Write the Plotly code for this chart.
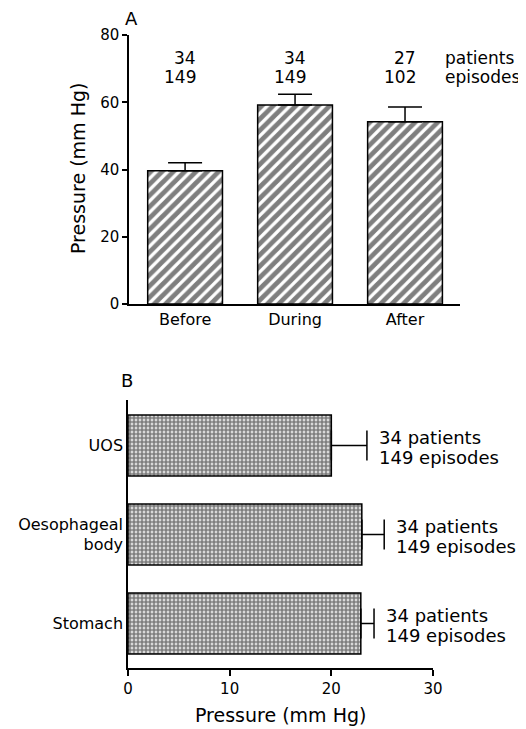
import plotly.graph_objects as go

# Panel A data
phases = ["Before", "During", "After"]
pressure_a = [39.6, 59.2, 54.2]
sem_a = [2.4, 3.2, 4.4]
patients_a = [34, 34, 27]
episodes_a = [149, 149, 102]
signif_a = ["", "**", "**"]

# Panel B data
sites = ["UOS", "Oesophageal<br>body", "Stomach"]
pressure_b = [20.0, 23.0, 22.9]
sem_b = [3.5, 2.2, 1.3]
patients_b = [34, 34, 34]
episodes_b = [149, 149, 149]

W, H = 526, 729
OFF = 8  # page body margin
FONT = "DejaVu Sans"

def px_x(p):
    return (p - OFF) / W

def px_y(p):
    return 1 - (p - OFF) / H

fig = go.Figure()

idx_a = list(range(len(phases)))
fig.add_trace(go.Bar(
    x=idx_a, y=pressure_a, xaxis="x", yaxis="y", width=0.68,
    marker=dict(color="white", line=dict(color="black", width=1.5),
                pattern=dict(shape="/", fgcolor="black", bgcolor="white", size=8, solidity=0.6)),
    error_y=dict(type="data", symmetric=False, array=sem_a, arrayminus=[0]*3,
                 color="black", thickness=1.5, width=17),
    showlegend=False, hoverinfo="skip",
))

idx_b = list(range(len(sites)))
fig.add_trace(go.Bar(
    y=idx_b, x=pressure_b, orientation="h", xaxis="x2", yaxis="y2", width=0.685,
    marker=dict(color="white", line=dict(color="black", width=1.5),
                pattern=dict(shape=".", fgcolor="black", bgcolor="white", size=4, solidity=0.75)),
    error_x=dict(type="data", symmetric=False, array=sem_b, arrayminus=[0]*3,
                 color="black", thickness=1.5, width=15),
    showlegend=False, hoverinfo="skip",
))

ann = []
tf = dict(family=FONT, size=17, color="black")
for i in idx_a:
    ann.append(dict(x=i, y=73.2, xref="x", yref="y", text=str(patients_a[i]), showarrow=False,
                    xanchor="right", yanchor="middle", xshift=13, font=tf))
    ann.append(dict(x=i, y=67.6, xref="x", yref="y", text=str(episodes_a[i]), showarrow=False,
                    xanchor="right", yanchor="middle", xshift=13, font=tf))
    if signif_a[i]:
        ann.append(dict(x=i, y=80.4, xref="x", yref="y", text=signif_a[i], showarrow=False,
                        xanchor="center", yanchor="middle", font=tf))
ann.append(dict(x=px_x(443), y=73.2, xref="paper", yref="y", text="patients", showarrow=False,
                xanchor="left", yanchor="middle", font=tf))
ann.append(dict(x=px_x(443), y=67.6, xref="paper", yref="y", text="episodes", showarrow=False,
                xanchor="left", yanchor="middle", font=tf))

bf = dict(family=FONT, size=18, color="black")
for i in idx_b:
    xe = pressure_b[i] + sem_b[i]
    ann.append(dict(x=xe, y=i, xref="x2", yref="y2", text=f"{patients_b[i]} patients", showarrow=False,
                    xanchor="left", yanchor="middle", xshift=10, yshift=8, font=bf))
    ann.append(dict(x=xe, y=i, xref="x2", yref="y2", text=f"{episodes_b[i]} episodes", showarrow=False,
                    xanchor="left", yanchor="middle", xshift=10, yshift=-12, font=bf))

def label(x, y, text, size, angle=0):
    ann.append(dict(x=px_x(x), y=px_y(y), xref="paper", yref="paper", text=text, textangle=angle,
                    xanchor="center", yanchor="middle", showarrow=False,
                    font=dict(family=FONT, size=size, color="black")))

label(78, 169, "Pressure (mm Hg)", 19, -90)
label(280, 715, "Pressure (mm Hg)", 19)
label(131, 18, "A", 18)
label(127, 380, "B", 18)

axis_common = dict(showgrid=False, zeroline=False, showline=True, linecolor="black", linewidth=1.5,
                   tickfont=dict(family=FONT, size=15, color="black"), tickcolor="black",
                   automargin=False)

fig.update_layout(
    width=W, height=H, margin=dict(l=0, r=0, t=0, b=0, autoexpand=False),
    paper_bgcolor="white", plot_bgcolor="white",
    xaxis=dict(domain=[px_x(129), px_x(460)], range=[-0.51, 2.5], anchor="y",
               tickvals=idx_a, ticktext=phases, ticks="",
               **{**axis_common, "tickfont": dict(family=FONT, size=16, color="black")}),
    yaxis=dict(domain=[px_y(304), px_y(35)], range=[0, 80], anchor="x",
               tickvals=[0, 20, 40, 60, 80], ticks="outside", ticklen=5, tickwidth=1.5, **axis_common),
    xaxis2=dict(domain=[px_x(128), px_x(433)], range=[0, 30], anchor="y2",
                tickvals=[0, 10, 20, 30], ticks="outside", ticklen=6, tickwidth=1.5, **axis_common),
    yaxis2=dict(domain=[px_y(668), px_y(400)], range=[2.5, -0.51], anchor="x2",
                tickvals=idx_b, ticktext=sites, ticks="",
                **{**axis_common, "tickfont": dict(family=FONT, size=16, color="black")}),
    annotations=ann,
)

fig.write_html("out.html")
